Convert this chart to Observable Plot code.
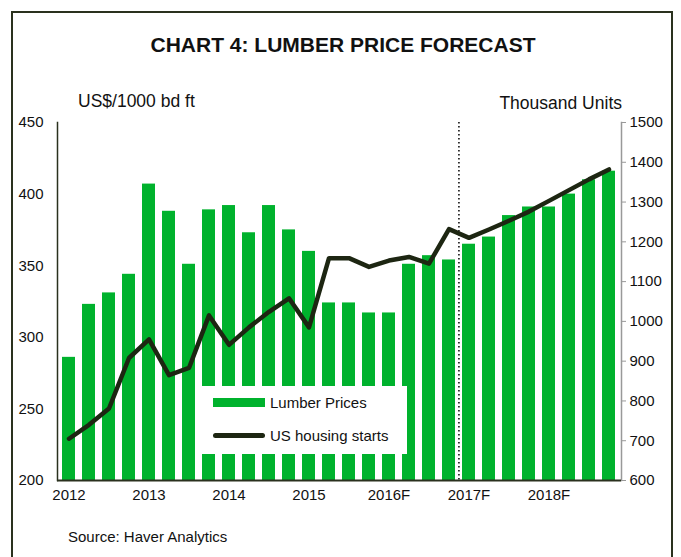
<!DOCTYPE html>
<html>
<head>
<meta charset="utf-8">
<script src="https://cdn.jsdelivr.net/npm/d3@7"></script>
<script src="https://cdn.jsdelivr.net/npm/@observablehq/plot@0.6"></script>
<style>
  html, body { margin: 0; padding: 0; background: #fff; }
  #wrap { position: relative; width: 681px; height: 557px; overflow: hidden; background: #fff;
          font-family: "Liberation Sans", Arial, sans-serif; color: #111; }
  #frame { position: absolute; left: 11px; top: 11px; width: 662px; height: 600px;
           border: 2px solid #2a311e; box-sizing: border-box; }
  #chart { position: absolute; left: 0; top: 0; }
  .t { position: absolute; white-space: nowrap; }
  #title { left: 0; width: 686px; text-align: center; top: 33px; font-size: 21px; font-weight: bold; }
  #ylab { left: 78px; top: 91px; font-size: 17.5px; }
  #y2lab { right: 59px; top: 93px; font-size: 17.5px; }
  #source { left: 68px; top: 528px; font-size: 15px; }
  #legend { position: absolute; left: 195px; top: 386px; width: 212px; height: 68px; background: #fff; }
  .item { position: absolute; left: 18px; font-size: 15px; display: flex; align-items: center; }
  .sw { width: 52px; margin-right: 5px; }
</style>
</head>
<body>
<div id="wrap">
  <div id="frame"></div>
  <div id="chart"></div>
  <div class="t" id="title">CHART 4: LUMBER PRICE FORECAST</div>
  <div class="t" id="ylab">US$/1000 bd ft</div>
  <div class="t" id="y2lab">Thousand Units</div>
  <div class="t" id="source">Source: Haver Analytics</div>
  <div id="legend">
    <div class="item" style="top:8px"><span class="sw" style="height:9px;background:#00b22d"></span>Lumber Prices</div>
    <div class="item" style="top:41px"><span class="sw" style="height:5px;background:#1d2612;border-radius:3px"></span>US housing starts</div>
  </div>
</div>
<script>
const quarters = ["2012Q1","2012Q2","2012Q3","2012Q4","2013Q1","2013Q2","2013Q3","2013Q4",
  "2014Q1","2014Q2","2014Q3","2014Q4","2015Q1","2015Q2","2015Q3","2015Q4",
  "2016Q1","2016Q2","2016Q3","2016Q4","2017Q1","2017Q2","2017Q3","2017Q4",
  "2018Q1","2018Q2","2018Q3","2018Q4"];
const yearTicks = ["2012Q1","2013Q1","2014Q1","2015Q1","2016Q1","2017Q1","2018Q1"];
const yearLabels = ["2012","2013","2014","2015","2016F","2017F","2018F"];
const lumberPrices = [286,323,331,344,407,388,351,389,392,373,392,375,360,324,324,317,
  317,351,357,354,365,370,385,391,391,400,410,416];
const housingStarts = [705,740,781,908,955,865,883,1015,941,985,1024,1058,985,1159,1159,1137,
  1153,1162,1145,1232,1210,1231,1253,1276,1303,1330,1357,1382];
const leftTicks = [200,250,300,350,400,450];
const rightTicks = [600,700,800,900,1000,1100,1200,1300,1400,1500];
const forecastStart = "2017Q1";

const L = [200, 450], R = [600, 1500];
const toLeft = v => L[0] + (v - R[0]) * (L[1] - L[0]) / (R[1] - R[0]);
const toRight = v => Math.round(R[0] + (v - L[0]) * (R[1] - R[0]) / (L[1] - L[0]));

const W = 681, H = 557, mL = 57, mR = 60, mT = 122, mB = 77;
const pIn = 0.33, pOut = 0.17;
const step = (W - mL - mR) / (quarters.length - pIn + 2 * pOut);

const data = quarters.map((q, i) => ({q, lumber: lumberPrices[i], starts: housingStarts[i]}));
const green = "#00b22d", dark = "#1d2612";

const chart = Plot.plot({
  width: W, height: H,
  marginLeft: mL, marginRight: mR, marginTop: mT, marginBottom: mB,
  style: {fontFamily: "'Liberation Sans', Arial, sans-serif", fontSize: "15px", color: "#111", background: "transparent"},
  x: {type: "band", domain: quarters, paddingInner: pIn, paddingOuter: pOut},
  y: {domain: L},
  marks: [
    Plot.barY(data, {x: "q", y1: L[0], y2: "lumber", fill: green}),
    Plot.ruleX([forecastStart], {dx: -step / 2, stroke: "#000", strokeWidth: 1.5, strokeDasharray: "1.5,2.5"}),
    Plot.lineY(data, {x: "q", y: d => toLeft(d.starts), stroke: dark, strokeWidth: 4.5,
      strokeLinejoin: "round", strokeLinecap: "round"}),
    Plot.frame({anchor: "left", stroke: "#2a311e", strokeWidth: 1.5}),
    Plot.frame({anchor: "right", stroke: "#999", strokeWidth: 1.5}),
    Plot.ruleY([L[0]], {stroke: "#2a311e", strokeWidth: 2}),
    Plot.axisY({anchor: "left", ticks: leftTicks, tickSize: 0, tickPadding: 14, fontSize: 15, label: null}),
    Plot.axisY({anchor: "right", ticks: rightTicks.map(toLeft), tickFormat: v => String(toRight(v)), tickSize: 4,
      stroke: "#999", tickPadding: 4, fontSize: 15, label: null}),
    Plot.axisX({ticks: yearTicks, tickFormat: q => yearLabels[yearTicks.indexOf(q)], tickSize: 0,
      tickPadding: 9, fontSize: 15, label: null})
  ]
});
document.getElementById("chart").appendChild(chart);
</script>
</body>
</html>
